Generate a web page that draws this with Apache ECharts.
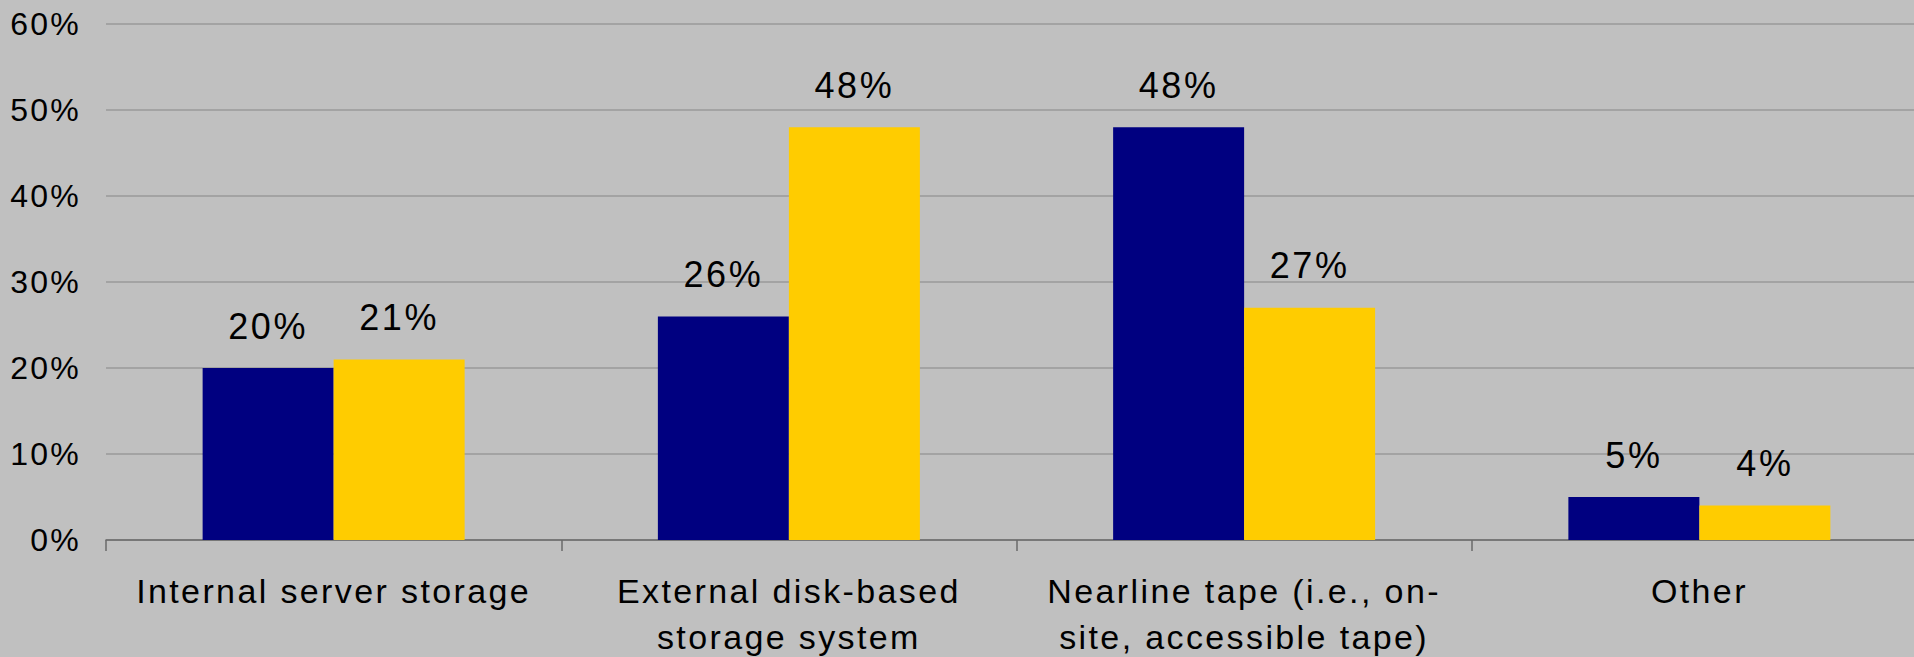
<!DOCTYPE html>
<html>
<head>
<meta charset="utf-8">
<style>
  html, body { margin: 0; padding: 0; background: #c0c0c0; }
  #chart { width: 1914px; height: 657px; }
  #chart text { letter-spacing: 0.07em; }
</style>
<script src="https://cdn.jsdelivr.net/npm/echarts@6/dist/echarts.min.js"></script>
</head>
<body>
<div id="chart"></div>
<script>
// Storage location shares, two survey groups
const categories = [
  'Internal server storage',
  'External disk-based\nstorage system',
  'Nearline tape (i.e., on-\nsite, accessible tape)',
  'Other'
];
const seriesA = [20, 26, 48, 5];
const seriesB = [21, 48, 27, 4];
const yTicks = [0, 10, 20, 30, 40, 50, 60];

const FONT = 'Liberation Sans, Arial, sans-serif';

const chart = echarts.init(document.getElementById('chart'), null, { renderer: 'svg' });

const labelStyle = {
  show: true,
  position: 'top',
  distance: 24,
  formatter: p => p.value + '%',
  color: '#000',
  fontFamily: FONT,
  fontSize: 36
};

chart.setOption({
  backgroundColor: '#c0c0c0',
  animation: false,
  grid: {
    left: 106,
    top: 24,
    width: 1821,
    height: 516,
    containLabel: false,
    outerBoundsMode: 'none'
  },
  xAxis: {
    type: 'category',
    data: categories,
    boundaryGap: true,
    axisLine: { show: true, lineStyle: { color: '#6a6a6a', width: 1.5 } },
    axisTick: { show: true, alignWithLabel: false, length: 11, lineStyle: { color: '#6a6a6a', width: 1.5 } },
    axisLabel: {
      color: '#000',
      fontFamily: FONT,
      fontSize: 34,
      lineHeight: 46,
      margin: 28,
      interval: 0
    },
    splitLine: { show: false }
  },
  yAxis: {
    type: 'value',
    min: yTicks[0],
    max: yTicks[yTicks.length - 1],
    interval: 10,
    axisLine: { show: false },
    axisTick: { show: false },
    axisLabel: {
      color: '#000',
      fontFamily: FONT,
      fontSize: 32,
      margin: 25,
      formatter: v => v + '%'
    },
    splitLine: { show: true, lineStyle: { color: '#9a9a9a', width: 1.5 } }
  },
  series: [
    {
      type: 'bar',
      data: seriesA,
      barWidth: 131,
      barGap: '0%',
      itemStyle: { color: '#000080' },
      label: labelStyle
    },
    {
      type: 'bar',
      data: seriesB,
      barWidth: 131,
      barGap: '0%',
      itemStyle: { color: '#ffcc00' },
      label: labelStyle
    }
  ]
});
</script>
</body>
</html>
